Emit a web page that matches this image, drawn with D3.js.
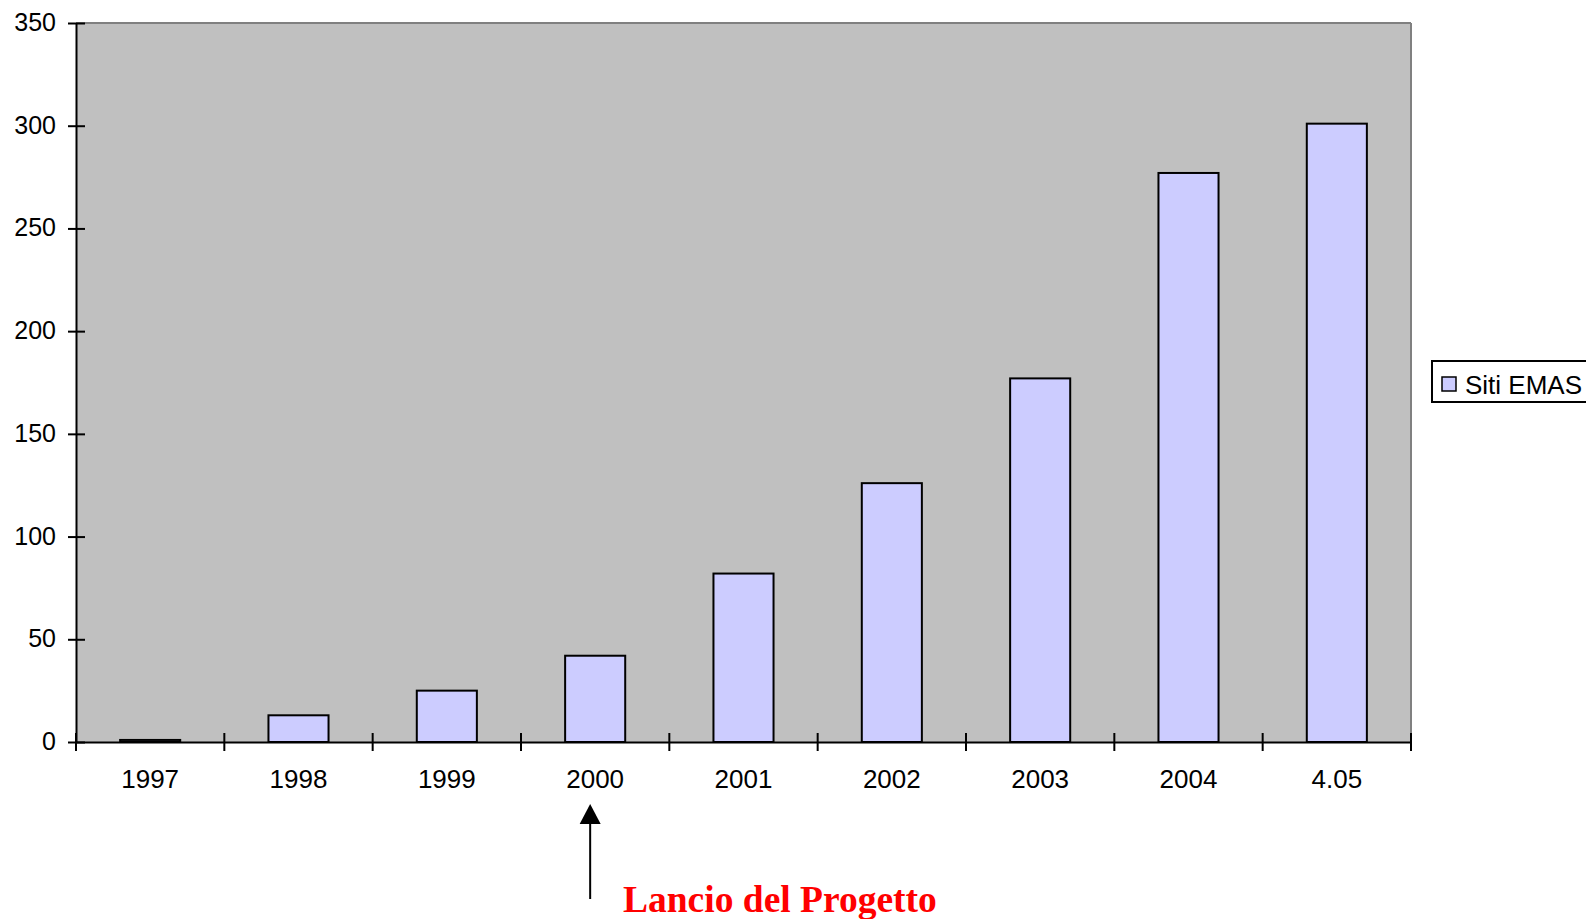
<!DOCTYPE html>
<html><head><meta charset="utf-8">
<script src="https://cdn.jsdelivr.net/npm/d3@7"></script>
<style>body{margin:0;background:#fff;}svg{display:block;}</style>
</head><body>
<svg id="c" width="1586" height="919"></svg>
<script>
const categories = ["1997","1998","1999","2000","2001","2002","2003","2004","4.05"];
const values = [1,13,25,42,82,126,177,277,301];
const yTicks = [0,50,100,150,200,250,300,350];
const seriesName = "Siti EMAS";
const annotation = "Lancio del Progetto";
const annotatedCategory = "2000";

const svg = d3.select("#c");
const L = 76, R = 1411, T = 23, B = 742;
const FS = 26;
const x = d3.scaleBand().domain(categories).range([L, R]).padding(0);
const y = d3.scaleLinear().domain([0, 350]).range([B, T]);
const barW = x.bandwidth() * 0.405;

svg.append("rect").attr("x", L).attr("y", T).attr("width", R - L).attr("height", B - T)
  .attr("fill", "#c0c0c0");
svg.append("line").attr("x1", L).attr("x2", R).attr("y1", T).attr("y2", T).attr("stroke", "#808080").attr("stroke-width", 2);
svg.append("line").attr("x1", R).attr("x2", R).attr("y1", T).attr("y2", B).attr("stroke", "#808080").attr("stroke-width", 2);

svg.selectAll("rect.bar").data(values).join("rect").attr("class", "bar")
  .attr("x", (d, i) => x(categories[i]) + (x.bandwidth() - barW) / 2)
  .attr("y", d => y(d))
  .attr("width", barW)
  .attr("height", d => B - y(d))
  .attr("fill", "#ccccff").attr("stroke", "#000").attr("stroke-width", 2);

// y axis
const yAxis = svg.append("g").attr("transform", `translate(${L},0)`)
  .call(d3.axisLeft(y).tickValues(yTicks).tickSize(0).tickPadding(20));
yAxis.select(".domain").attr("stroke", "#000").attr("stroke-width", 2);
yAxis.selectAll(".tick line").remove();
yAxis.selectAll(".tick").append("line").attr("x1", -8).attr("x2", 9).attr("stroke", "#000").attr("stroke-width", 2);
yAxis.selectAll(".tick text").attr("font-family", "Liberation Sans, Arial, sans-serif").attr("font-size", 25).attr("fill", "#000").attr("dy", "0.3em");

// x axis
const xAxis = svg.append("g").attr("transform", `translate(0,${B})`)
  .call(d3.axisBottom(x).tickSize(0));
xAxis.select(".domain").attr("stroke", "#000").attr("stroke-width", 2);
xAxis.selectAll(".tick line").remove();
xAxis.selectAll(".tick text").attr("font-family", "Liberation Sans, Arial, sans-serif").attr("font-size", FS).attr("fill", "#000")
  .attr("y", 46).attr("dy", 0);
const bounds = categories.map(c => x(c)).concat([R]);
svg.append("g").selectAll("line").data(bounds).join("line")
  .attr("x1", d => d).attr("x2", d => d).attr("y1", B - 9).attr("y2", B + 9)
  .attr("stroke", "#000").attr("stroke-width", 2);

// annotation arrow
const ax = x(annotatedCategory) + x.bandwidth() / 2 - 5;
svg.append("line").attr("x1", ax).attr("x2", ax).attr("y1", 822).attr("y2", 899).attr("stroke", "#000").attr("stroke-width", 2);
svg.append("path").attr("d", `M${ax},804 L${ax - 10.5},824 L${ax + 10.5},824 Z`).attr("fill", "#000");
svg.append("text").attr("x", 623).attr("y", 912).text(annotation)
  .attr("font-family", "Liberation Serif, Times New Roman, serif").attr("font-weight", "bold")
  .attr("font-size", 37.5).attr("fill", "#ff0000");

// legend
svg.append("rect").attr("x", 1432).attr("y", 361).attr("width", 170).attr("height", 41)
  .attr("fill", "#fff").attr("stroke", "#000").attr("stroke-width", 2);
svg.append("rect").attr("x", 1442).attr("y", 377).attr("width", 14).attr("height", 14)
  .attr("fill", "#ccccff").attr("stroke", "#000").attr("stroke-width", 1.5);
svg.append("text").attr("x", 1465).attr("y", 394).text(seriesName)
  .attr("font-family", "Liberation Sans, Arial, sans-serif").attr("font-size", FS).attr("fill", "#000");
</script>
</body></html>
